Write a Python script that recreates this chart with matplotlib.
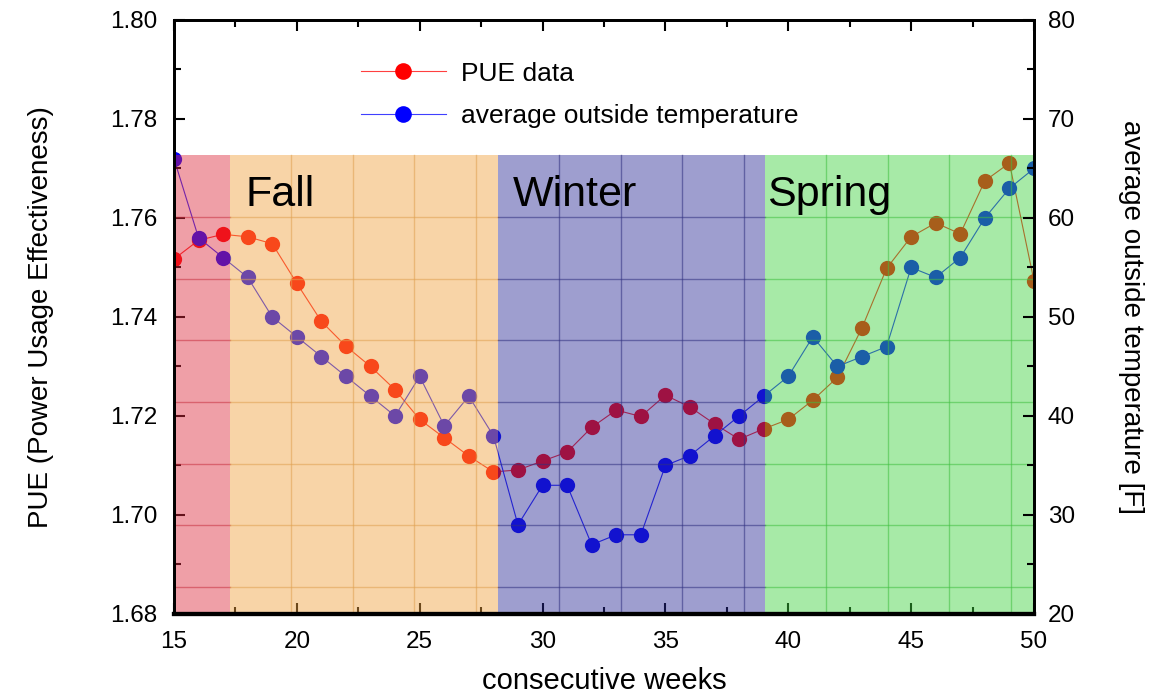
import numpy as np
import matplotlib
matplotlib.use('Agg')
import matplotlib.pyplot as plt
from matplotlib.ticker import MultipleLocator
from matplotlib.lines import Line2D

plt.rcParams['font.family'] = ['Liberation Sans', 'DejaVu Sans']

# data
weeks = list(range(15, 51))
pue = [1.7517, 1.7555, 1.7567, 1.7562, 1.7548, 1.7468, 1.7391, 1.7341, 1.7300, 1.7253,
       1.7193, 1.7156, 1.7119, 1.7087, 1.7091, 1.7109, 1.7127, 1.7177, 1.7212, 1.7199,
       1.7242, 1.7218, 1.7184, 1.7153, 1.7174, 1.7193, 1.7232, 1.7278, 1.7378, 1.7498,
       1.7562, 1.7590, 1.7568, 1.7675, 1.7711, 1.7473]
temp = [66, 58, 56, 54, 50, 48, 46, 44, 42, 40,
        44, 39, 42, 38, 29, 33, 33, 27, 28, 28,
        35, 36, 38, 40, 42, 44, 48, 45, 46, 47,
        55, 54, 56, 60, 63, 65]

season_names = ['', 'Fall', 'Winter', 'Spring']
season_start = [15, 17.28, 28.19, 39.05]
season_end = [17.28, 28.19, 39.05, 50]
label_x = [15, 17.9, 28.8, 39.15]
season_colors = ['#dc2a3c', '#f0a03c', '#282896', '#3cd23c']
season_grid = ['#c83040', '#e0a050', '#303080', '#40c040']

fig = plt.figure(figsize=(11.49, 6.94), dpi=100)
ax = fig.add_axes([0.1514, 0.1153, 0.7485, 0.8559])
ax2 = ax.twinx()

ax.set_xlim(15, 50)
ax.set_ylim(1.68, 1.80)
ax2.set_ylim(20, 80)

# both series go in ax so the shading sits over them but under the ticks
ax.plot(weeks, pue, color='#ff2020', lw=0.8, marker='o', ms=11, mec='none', mfc='#ff0000', zorder=1)
ax.plot(weeks, temp, color='#2020ff', lw=0.8, marker='o', ms=11, mec='none', mfc='#0000ff', zorder=1,
        transform=ax2.transData)

top = 0.7725
gap = 0.1039
xtr = ax.get_xaxis_transform()
for name, x0, x1, lx, c, gc in zip(season_names, season_start, season_end, label_x, season_colors, season_grid):
    ax.axvspan(x0, x1, ymin=0, ymax=top, color=c, alpha=0.45, lw=0, zorder=2)
    xx = x0 + 2.5
    while xx < x1:
        ax.plot([xx, xx], [0, top], transform=xtr, color=gc, lw=1, alpha=0.55, zorder=2.1)
        xx += 2.5
    yy = top - gap
    while yy > 0:
        ax.plot([x0, x1], [yy, yy], transform=xtr, color=gc, lw=1, alpha=0.55, zorder=2.1)
        yy -= gap
    if name:
        ax.text(lx, 0.705, name, transform=xtr, fontsize=31, va='center', ha='left', zorder=2.2)

ax.xaxis.set_major_locator(MultipleLocator(5))
ax.xaxis.set_minor_locator(MultipleLocator(2.5))
ax.yaxis.set_major_locator(MultipleLocator(0.02))
ax.yaxis.set_minor_locator(MultipleLocator(0.01))
ax.yaxis.set_major_formatter(matplotlib.ticker.FormatStrFormatter('%.2f'))
ax2.yaxis.set_major_locator(MultipleLocator(10))
ax2.yaxis.set_minor_locator(MultipleLocator(5))

ax.tick_params(which='both', direction='in', top=True, right=False, labelsize=17.5, width=1.5, pad=12)
ax.tick_params(which='major', length=8)
ax.tick_params(which='minor', length=5)
ax2.tick_params(which='both', direction='in', labelsize=17.5, width=1.5, pad=10)
ax2.tick_params(which='major', length=8)
ax2.tick_params(which='minor', length=5)

for a in (ax, ax2):
    a.spines['left'].set_linewidth(2)
    a.spines['right'].set_linewidth(2)
    a.spines['top'].set_linewidth(2)
    a.spines['bottom'].set_linewidth(3)

ax.set_xlabel('consecutive weeks', fontsize=21, labelpad=10)
ax.set_ylabel('PUE (Power Usage Effectiveness)', fontsize=20, labelpad=40)
ax2.set_ylabel('average outside temperature [F]', fontsize=20, rotation=270, labelpad=50)

handles = [Line2D([], [], color='#ff4040', lw=0.8, marker='o', ms=12, mec='none', mfc='#ff0000'),
           Line2D([], [], color='#4040ff', lw=0.8, marker='o', ms=12, mec='none', mfc='#0000ff')]
leg = ax2.legend(handles, ['PUE data', 'average outside temperature'], loc='upper left',
                 bbox_to_anchor=(0.19, 0.97), frameon=False, fontsize=19,
                 handlelength=3.2, labelspacing=0.7, handletextpad=0.6)
leg.set_zorder(10)

fig.savefig('out.png', dpi=100)
